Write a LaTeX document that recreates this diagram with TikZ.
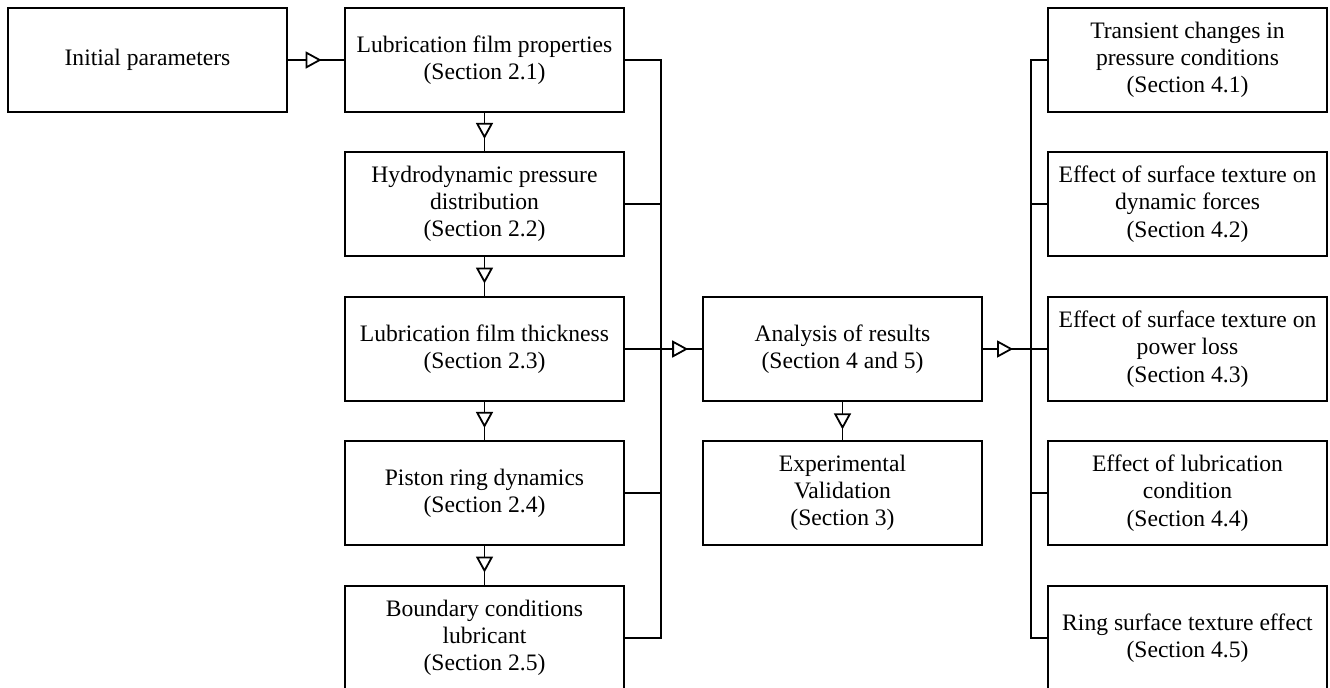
\documentclass[tikz,border=0pt]{standalone}
\usepackage{fontspec}
\setmainfont{Liberation Serif}
\usetikzlibrary{arrows.meta,decorations.markings}
\tikzset{
  box/.style={draw, line width=0.9pt, minimum width=139.5pt, minimum height=52pt, inner sep=0pt, align=center, font=\fontsize{11.8}{13.6}\selectfont},
  conn/.style={line width=0.9pt},
  midarrow/.style={conn, postaction={decorate}, decoration={markings, mark=at position #1 with {\arrow{Triangle[length=8pt,width=8.5pt,fill=white,line width=0.9pt]}}}}
}
\begin{document}
\begin{tikzpicture}[x=0.5pt,y=-0.5pt]
\useasboundingbox (0,0) rectangle (1330,687);
\node[box] (init) at (147.5,60) {Initial parameters};
\node[box] (b1) at (484.5,60) {Lubrication film properties\\(Section 2.1)};
\node[box] (b2) at (484.5,204) {Hydrodynamic pressure\\distribution\\(Section 2.2)};
\node[box] (b3) at (484.5,349) {Lubrication film thickness\\(Section 2.3)};
\node[box] (b4) at (484.5,493) {Piston ring dynamics\\(Section 2.4)};
\node[box] (b5) at (484.5,638) {Boundary conditions\\lubricant\\(Section 2.5)};
\node[box] (an) at (842.5,349) {Analysis of results\\(Section 4 and 5)};
\node[box] (ex) at (842.5,493) {Experimental\\Validation\\(Section 3)};
\node[box] (r1) at (1187.5,60) {Transient changes in\\pressure conditions\\(Section 4.1)};
\node[box] (r2) at (1187.5,204) {Effect of surface texture on\\dynamic forces\\(Section 4.2)};
\node[box] (r3) at (1187.5,349) {Effect of surface texture on\\power loss\\(Section 4.3)};
\node[box] (r4) at (1187.5,493) {Effect of lubrication\\condition\\(Section 4.4)};
\node[box] (r5) at (1187.5,638) {Ring surface texture effect\\(Section 4.5)};
\coordinate (busL) at (661,0);
\coordinate (busR) at (1031,0);
% arrows
\draw[midarrow=0.6] (init.east) -- (b1.west);
\draw[midarrow=0.68] (b1.south) -- (b2.north);
\draw[midarrow=0.68] (b2.south) -- (b3.north);
\draw[midarrow=0.68] (b3.south) -- (b4.north);
\draw[midarrow=0.68] (b4.south) -- (b5.north);
\draw[midarrow=0.72] (an.south) -- (ex.north);
\draw[midarrow=0.82] (b3.east) -- (an.west);
\draw[midarrow=0.47] (an.east) -- (r3.west);
% left bus
\draw[conn] (b1.east) -- (b1.east -| busL) -- (b5.east -| busL) -- (b5.east);
\draw[conn] (b2.east) -- (b2.east -| busL);
\draw[conn] (b4.east) -- (b4.east -| busL);
% right bus
\draw[conn] (r1.west) -- (r1.west -| busR) -- (r5.west -| busR) -- (r5.west);
\draw[conn] (r2.west) -- (r2.west -| busR);
\draw[conn] (r4.west) -- (r4.west -| busR);
\end{tikzpicture}
\end{document}
